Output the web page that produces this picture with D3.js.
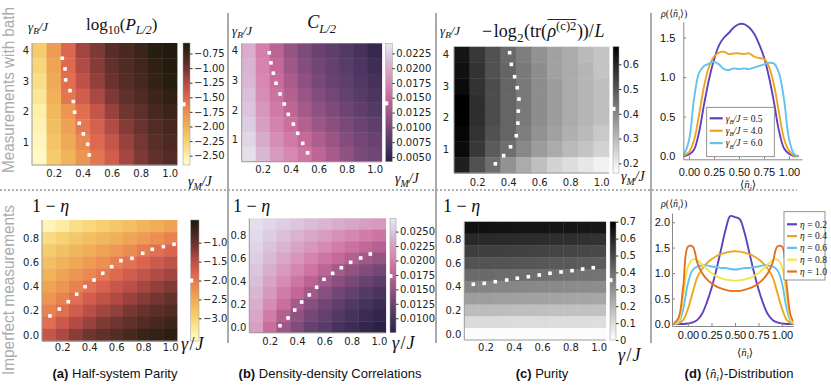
<!DOCTYPE html>
<html>
<head>
<meta charset="utf-8">
<script src="https://cdn.jsdelivr.net/npm/d3@7"></script>
<style>
  body { margin: 0; background: #fff; }
  svg { display: block; }
  text { white-space: pre; }
</style>
</head>
<body>
<svg id="chart" width="831" height="388"></svg>
<script>
// ---- data ----
let gammaCols = [0.1, 0.2, 0.3, 0.4, 0.5, 0.6, 0.7, 0.8, 0.9, 1.0];
let gammaBRows = [4.0, 3.5, 3.0, 2.5, 2.0, 1.5, 1.0, 0.5];
let etaRows = [0.9, 0.8, 0.7, 0.6, 0.5, 0.4, 0.3, 0.2, 0.1, 0.0];

let parityBath = [
  [-2.2, -1.85, -1.5, -1.18, -1.05, -0.9, -0.82, -0.74, -0.63, -0.58],
  [-2.28, -1.9, -1.52, -1.25, -1.08, -0.94, -0.85, -0.77, -0.67, -0.6],
  [-2.35, -1.95, -1.55, -1.32, -1.13, -0.98, -0.88, -0.8, -0.7, -0.63],
  [-2.42, -2.0, -1.6, -1.42, -1.22, -1.05, -0.93, -0.85, -0.75, -0.68],
  [-2.5, -2.05, -1.8, -1.55, -1.35, -1.15, -1.0, -0.92, -0.8, -0.74],
  [-2.55, -2.1, -1.88, -1.62, -1.45, -1.25, -1.08, -0.97, -0.86, -0.79],
  [-2.58, -2.15, -1.95, -1.72, -1.52, -1.35, -1.15, -1.02, -0.9, -0.83],
  [-2.62, -2.2, -2.02, -1.8, -1.6, -1.42, -1.2, -1.05, -0.93, -0.86]
];
let corrBath = [
  [0.0203, 0.0168, 0.0142, 0.0118, 0.0103, 0.009, 0.0082, 0.0074, 0.0065, 0.0052],
  [0.0207, 0.0172, 0.0147, 0.0124, 0.0108, 0.0095, 0.0086, 0.0078, 0.0069, 0.0058],
  [0.021, 0.0176, 0.0152, 0.013, 0.0113, 0.01, 0.009, 0.0082, 0.0073, 0.0063],
  [0.0214, 0.018, 0.0158, 0.0137, 0.012, 0.0106, 0.0096, 0.0087, 0.0078, 0.0069],
  [0.0218, 0.0186, 0.0164, 0.0145, 0.0128, 0.0114, 0.0103, 0.0093, 0.0084, 0.0075],
  [0.0223, 0.0192, 0.0171, 0.0154, 0.0137, 0.0123, 0.0111, 0.0101, 0.0091, 0.0082],
  [0.0229, 0.0201, 0.018, 0.0164, 0.0148, 0.0134, 0.0121, 0.0108, 0.0097, 0.0089],
  [0.0235, 0.021, 0.019, 0.0175, 0.016, 0.0145, 0.013, 0.0115, 0.0102, 0.0095]
];
let purityBath = [
  [0.63, 0.56, 0.51, 0.46, 0.42, 0.38, 0.35, 0.33, 0.30, 0.28],
  [0.64, 0.57, 0.51, 0.47, 0.43, 0.39, 0.35, 0.33, 0.31, 0.28],
  [0.65, 0.57, 0.52, 0.47, 0.43, 0.39, 0.36, 0.33, 0.31, 0.29],
  [0.67, 0.58, 0.52, 0.47, 0.43, 0.39, 0.36, 0.33, 0.31, 0.29],
  [0.67, 0.58, 0.52, 0.47, 0.43, 0.39, 0.36, 0.33, 0.31, 0.29],
  [0.66, 0.57, 0.51, 0.47, 0.42, 0.38, 0.35, 0.32, 0.30, 0.27],
  [0.65, 0.56, 0.49, 0.45, 0.40, 0.36, 0.33, 0.30, 0.28, 0.25],
  [0.61, 0.51, 0.45, 0.38, 0.33, 0.29, 0.25, 0.23, 0.21, 0.19]
];
let parityEta = [
  [-3.45, -3.3, -3.15, -3.05, -2.95, -2.85, -2.75, -2.65, -2.55, -2.45],
  [-3.1, -2.98, -2.86, -2.76, -2.66, -2.56, -2.46, -2.35, -2.22, -2.1],
  [-2.9, -2.78, -2.66, -2.55, -2.44, -2.32, -2.2, -2.05, -1.92, -1.8],
  [-2.75, -2.6, -2.48, -2.35, -2.22, -2.08, -1.95, -1.8, -1.68, -1.55],
  [-2.6, -2.45, -2.3, -2.15, -2.0, -1.85, -1.7, -1.58, -1.45, -1.35],
  [-2.45, -2.3, -2.1, -1.95, -1.78, -1.62, -1.5, -1.38, -1.25, -1.15],
  [-2.3, -2.1, -1.9, -1.7, -1.55, -1.42, -1.3, -1.18, -1.08, -0.98],
  [-2.1, -1.9, -1.7, -1.5, -1.35, -1.25, -1.1, -1.0, -0.9, -0.82],
  [-1.9, -1.65, -1.45, -1.3, -1.15, -1.05, -0.95, -0.85, -0.75, -0.68],
  [-1.6, -1.4, -1.2, -1.05, -0.95, -0.85, -0.75, -0.65, -0.58, -0.5]
];
let corrEta = [
  [0.0266, 0.026, 0.0255, 0.025, 0.0244, 0.0239, 0.0234, 0.0229, 0.0224, 0.022],
  [0.0262, 0.0254, 0.0246, 0.0238, 0.023, 0.0222, 0.0214, 0.0206, 0.0198, 0.019],
  [0.0258, 0.0248, 0.0238, 0.0228, 0.0218, 0.0208, 0.0198, 0.0188, 0.0178, 0.017],
  [0.0255, 0.0242, 0.023, 0.0217, 0.0204, 0.0192, 0.018, 0.0168, 0.0158, 0.015],
  [0.025, 0.0235, 0.022, 0.0205, 0.019, 0.0175, 0.016, 0.0148, 0.0138, 0.013],
  [0.0245, 0.0228, 0.021, 0.0192, 0.0174, 0.0158, 0.0144, 0.0132, 0.0122, 0.0114],
  [0.024, 0.022, 0.0198, 0.0178, 0.0158, 0.0142, 0.0128, 0.0118, 0.0108, 0.01],
  [0.0235, 0.021, 0.0185, 0.016, 0.0142, 0.0128, 0.0116, 0.0106, 0.0097, 0.009],
  [0.023, 0.0198, 0.0168, 0.0148, 0.013, 0.0118, 0.0106, 0.0097, 0.0088, 0.0082],
  [0.0225, 0.0185, 0.0155, 0.0138, 0.012, 0.011, 0.0098, 0.009, 0.0082, 0.0076]
];
let purityEta = [
  [0.655, 0.653, 0.65, 0.648, 0.647, 0.644, 0.642, 0.641, 0.638, 0.636],
  [0.59, 0.588, 0.584, 0.582, 0.578, 0.576, 0.572, 0.57, 0.566, 0.563],
  [0.53, 0.528, 0.524, 0.521, 0.519, 0.515, 0.512, 0.51, 0.506, 0.503],
  [0.475, 0.472, 0.47, 0.466, 0.463, 0.461, 0.457, 0.455, 0.451, 0.448],
  [0.41, 0.408, 0.404, 0.401, 0.399, 0.395, 0.393, 0.389, 0.386, 0.384],
  [0.34, 0.338, 0.334, 0.332, 0.328, 0.325, 0.323, 0.319, 0.316, 0.314],
  [0.27, 0.268, 0.264, 0.262, 0.258, 0.256, 0.252, 0.25, 0.246, 0.244],
  [0.185, 0.183, 0.182, 0.179, 0.178, 0.175, 0.174, 0.171, 0.17, 0.167],
  [0.1, 0.1, 0.098, 0.097, 0.097, 0.095, 0.094, 0.093, 0.092, 0.091],
  [0.008, 0.008, 0.008, 0.008, 0.008, 0.008, 0.008, 0.008, 0.008, 0.008]
];

// critical lines (x, y)
let parityBathLine = [[0.259, 3.75], [0.278, 3.40], [0.282, 3.04], [0.312, 2.69], [0.335, 2.33], [0.344, 1.98], [0.376, 1.62], [0.404, 1.27], [0.434, 0.93], [0.445, 0.58]];
let corrBathLine = [[0.247, 3.93], [0.259, 3.59], [0.276, 3.24], [0.295, 2.90], [0.324, 2.54], [0.354, 2.20], [0.383, 1.85], [0.419, 1.52], [0.45, 1.21], [0.486, 0.87], [0.521, 0.55]];
let purityBathLine = [[0.409, 4.06], [0.42, 3.69], [0.441, 3.30], [0.458, 2.95], [0.469, 2.59], [0.465, 2.21], [0.462, 1.83], [0.452, 1.43], [0.415, 1.08], [0.37, 0.80], [0.317, 0.54]];
let parityEtaLine = [[0.109, 0.157], [0.178, 0.214], [0.245, 0.275], [0.307, 0.336], [0.369, 0.399], [0.435, 0.454], [0.50, 0.51], [0.566, 0.564], [0.635, 0.614], [0.717, 0.633], [0.796, 0.675], [0.867, 0.708], [0.949, 0.73], [1.028, 0.749]];
let corrEtaLine = [[0.275, 0.011], [0.334, 0.079], [0.383, 0.148], [0.434, 0.218], [0.49, 0.28], [0.544, 0.347], [0.598, 0.417], [0.661, 0.469], [0.725, 0.518], [0.793, 0.565], [0.867, 0.603], [0.937, 0.638]];
let purityEtaLine = [[0.114, 0.421], [0.191, 0.429], [0.269, 0.443], [0.35, 0.457], [0.425, 0.472], [0.503, 0.485], [0.58, 0.499], [0.656, 0.514], [0.734, 0.525], [0.812, 0.536], [0.887, 0.55], [0.962, 0.561]];

// colorbar critical markers
let criticalMarks = { parityBath: -1.62, corrBath: 0.01405, purityBath: 0.42, parityEta: -2.0, corrEta: 0.0173, purityEta: 0.354 };

// density distributions
let nGridTop = [-0.1, -0.05, 0, 0.05, 0.1, 0.15, 0.2, 0.25, 0.3, 0.35, 0.4, 0.45, 0.5, 0.55, 0.6, 0.65, 0.7, 0.75, 0.8, 0.85, 0.9, 0.95, 1.0, 1.05, 1.1];
let rhoGB05 = [0, 0, 0.02, 0.08, 0.3, 0.65, 0.97, 1.22, 1.4, 1.5, 1.56, 1.63, 1.67, 1.67, 1.63, 1.55, 1.42, 1.25, 1.0, 0.68, 0.32, 0.1, 0.03, 0, 0];
let rhoGB40 = [0, 0.01, 0.05, 0.2, 0.52, 0.88, 1.13, 1.26, 1.31, 1.32, 1.29, 1.3, 1.3, 1.29, 1.3, 1.26, 1.24, 1.23, 1.13, 0.9, 0.55, 0.22, 0.07, 0.01, 0];
let rhoGB60 = [0, 0.03, 0.2, 0.72, 1.05, 1.14, 1.17, 1.19, 1.16, 1.1, 1.09, 1.11, 1.1, 1.11, 1.1, 1.12, 1.14, 1.16, 1.18, 1.17, 1.05, 0.72, 0.22, 0.03, 0];
let gammaBLabels = ["0.5", "4.0", "6.0"];

let nGridBot = [-0.15, -0.1, -0.05, 0, 0.05, 0.1, 0.15, 0.2, 0.25, 0.3, 0.35, 0.4, 0.45, 0.5, 0.55, 0.6, 0.65, 0.7, 0.75, 0.8, 0.85, 0.9, 0.95, 1.0, 1.05, 1.1, 1.15];
let rhoEta02 = [0, 0, 0, 0.01, 0.03, 0.08, 0.2, 0.42, 0.7, 1.05, 1.45, 1.85, 2.12, 2.1, 2.06, 1.8, 1.42, 1.03, 0.68, 0.4, 0.19, 0.08, 0.03, 0.01, 0, 0, 0];
let rhoEta04 = [0, 0.01, 0.08, 0.3, 0.62, 0.92, 1.08, 1.19, 1.27, 1.33, 1.37, 1.4, 1.42, 1.43, 1.42, 1.4, 1.37, 1.33, 1.27, 1.19, 1.08, 0.92, 0.62, 0.3, 0.08, 0.01, 0];
let rhoEta06 = [0, 0.03, 0.3, 0.8, 1.06, 1.13, 1.15, 1.15, 1.13, 1.12, 1.1, 1.1, 1.08, 1.07, 1.08, 1.1, 1.1, 1.12, 1.13, 1.15, 1.15, 1.13, 1.06, 0.8, 0.3, 0.03, 0];
let rhoEta08 = [0, 0.06, 0.55, 1.12, 1.27, 1.25, 1.17, 1.08, 1.0, 0.94, 0.9, 0.87, 0.86, 0.85, 0.86, 0.87, 0.9, 0.94, 1.0, 1.08, 1.17, 1.25, 1.27, 1.12, 0.55, 0.06, 0];
let rhoEta10 = [0.01, 0.12, 0.75, 1.52, 1.52, 1.2, 1.0, 0.88, 0.8, 0.74, 0.7, 0.67, 0.65, 0.65, 0.65, 0.67, 0.7, 0.74, 0.8, 0.88, 1.0, 1.2, 1.52, 1.52, 0.75, 0.12, 0.01];
let etaLabels = ["0.2", "0.4", "0.6", "0.8", "1.0"];

// ---- styles ----
const SANS = "'DejaVu Sans', sans-serif";
const SERIF = "'Liberation Serif', 'DejaVu Serif', serif";
const HELV = "'Liberation Sans', Arial, sans-serif";

let svg = d3.select("#chart");

let makeCmap = (stops, colors) => d3.scaleLinear().domain(stops).range(colors).interpolate(d3.interpolateRgb).clamp(true);
let parityCmap = makeCmap([0, 0.08, 0.2, 0.32, 0.44, 0.56, 0.68, 0.8, 0.92, 1],
  ["#fffcd0", "#fdefa6", "#f6d070", "#f0b058", "#ec8c50", "#dc6450", "#b04a44", "#6c3430", "#3a2418", "#1e1a0c"]);
let corrCmap = makeCmap([0, 0.165, 0.29, 0.415, 0.54, 0.665, 0.79, 0.915, 1],
  ["#2a2046", "#543a66", "#784878", "#a05888", "#c86a9a", "#d688b0", "#d8a8c8", "#ddd0e4", "#ebe9f2"]);
let grayCmap = makeCmap([0, 1], ["#ffffff", "#000000"]);

// rich math text: pieces laid out one after another
let mathText = (g, x, y, pieces, size, anchor) => {
  let grp = g.append("g");
  let cx = 0;
  let boxes = [];
  pieces.forEach(p => {
    let fs = (p.sub || p.sup) ? size * 0.7 : size;
    let dy = p.sub ? size * 0.25 : p.sup ? -size * 0.4 : 0;
    let t = grp.append("text").attr("x", cx).attr("y", dy)
      .attr("font-family", p.fam || SERIF).attr("font-size", fs)
      .attr("font-style", p.it ? "italic" : "normal").attr("fill", "#111").text(p.t);
    let w = t.node().getComputedTextLength();
    boxes.push([cx, cx + w]);
    cx += w + (p.sp || 0);
  });
  let dx = anchor === "middle" ? -cx / 2 : anchor === "end" ? -cx : 0;
  grp.attr("transform", "translate(" + (x + dx) + "," + y + ")");
  return { grp, boxes };
};

let gradId = 0;
let drawHeatmap = (p) => {
  let xScale = d3.scaleLinear().domain([0.05, 1.05]).range([p.x0, p.x1]);
  let yScale = d3.scaleLinear().domain(p.yDom).range([p.y1, p.y0]);
  let cScale = d3.scaleLinear().domain(p.cDom).range([0, 1]);
  let cells = [];
  p.rows.forEach((r, i) => gammaCols.forEach((c, j) => cells.push({ c, r, v: p.values[i][j] })));

  svg.append("g").selectAll("rect").data(cells).join("rect")
    .attr("x", d => xScale(d.c - 0.05))
    .attr("width", d => xScale(d.c + 0.05) - xScale(d.c - 0.05) + 0.4)
    .attr("y", d => yScale(d.r + p.dy / 2))
    .attr("height", d => yScale(d.r - p.dy / 2) - yScale(d.r + p.dy / 2) + 0.4)
    .attr("fill", d => p.cmap(cScale(d.v)));

  // spines
  svg.append("line").attr("x1", p.x0).attr("x2", p.x0).attr("y1", p.y0).attr("y2", p.y1).attr("stroke", "#999").attr("stroke-width", 1);
  svg.append("line").attr("x1", p.x0).attr("x2", p.x1).attr("y1", p.y1).attr("y2", p.y1).attr("stroke", "#999").attr("stroke-width", 1);

  // critical line dots
  svg.append("g").selectAll("rect").data(p.line).join("rect")
    .attr("x", d => xScale(d[0]) - 1.8).attr("y", d => yScale(d[1]) - 1.8)
    .attr("width", 3.6).attr("height", 3.6).attr("fill", "#fff");

  let xAxis = d3.axisBottom(xScale).tickValues([0.2, 0.4, 0.6, 0.8, 1.0]).tickFormat(d3.format(".1f")).tickSize(0).tickPadding(p.xPad);
  let gx = svg.append("g").attr("transform", "translate(0," + p.y1 + ")").call(xAxis);
  let yAxis = d3.axisLeft(yScale).tickValues(p.yTicks).tickFormat(d3.format(p.yFmt)).tickSize(0).tickPadding(p.yPad);
  let gy = svg.append("g").attr("transform", "translate(" + p.x0 + ",0)").call(yAxis);
  [gx, gy].forEach(g => {
    g.select(".domain").remove();
    g.selectAll("text").attr("font-family", SANS).attr("font-size", 10).attr("fill", "#222");
  });

  // colorbar
  let cb = d3.scaleLinear().domain(p.cDom).range([p.y1, p.y0]);
  let id = "grad" + (gradId++);
  let grad = svg.append("defs").append("linearGradient").attr("id", id)
    .attr("x1", 0).attr("x2", 0).attr("y1", 1).attr("y2", 0);
  d3.range(0, 1.0001, 0.05).forEach(t => grad.append("stop").attr("offset", t).attr("stop-color", p.cmap(t)));
  svg.append("rect").attr("x", p.cbX).attr("y", p.y0).attr("width", p.cbW).attr("height", p.y1 - p.y0)
    .attr("fill", "url(#" + id + ")").attr("stroke", "#999").attr("stroke-width", 0.5);
  let cAxis = d3.axisRight(cb).tickValues(p.cTicks).tickFormat(p.cFmt).tickSize(2.5).tickPadding(1.5).tickSizeOuter(0);
  let gc = svg.append("g").attr("transform", "translate(" + (p.cbX + p.cbW) + ",0)").call(cAxis);
  gc.select(".domain").remove();
  gc.selectAll("line").attr("stroke", "#333");
  gc.selectAll("text").attr("font-family", SANS).attr("font-size", 10).attr("fill", "#222");
  svg.append("rect").attr("x", p.cbX - 1.5).attr("y", cb(p.mark) - 2).attr("width", 4).attr("height", 4).attr("fill", "#fff");
};

let f4 = d3.format(".4f");
let heatPanels = [
  { x0: 32, x1: 177, y0: 43, y1: 165, rows: gammaBRows, dy: 0.5, yDom: [0.25, 4.25], yTicks: [1, 2, 3, 4], yFmt: "d",
    values: parityBath, cmap: parityCmap, cDom: [-2.66, -0.57], cbX: 183, cbW: 7,
    cTicks: [-2.5, -2.25, -2, -1.75, -1.5, -1.25, -1, -0.75], cFmt: d3.format(".2f"), mark: criticalMarks.parityBath,
    line: parityBathLine, xPad: 5, yPad: 3 },
  { x0: 241.7, x1: 381.7, y0: 43.3, y1: 161.7, rows: gammaBRows, dy: 0.5, yDom: [0.25, 4.25], yTicks: [1, 2, 3, 4], yFmt: "d",
    values: corrBath, cmap: corrCmap, cDom: [0.0042, 0.0242], cbX: 385.7, cbW: 6.6,
    cTicks: [0.005, 0.0075, 0.01, 0.0125, 0.015, 0.0175, 0.02, 0.0225], cFmt: f4, mark: criticalMarks.corrBath,
    line: corrBathLine, xPad: 4.5, yPad: 3.5 },
  { x0: 454, x1: 609, y0: 46.7, y1: 173, rows: gammaBRows, dy: 0.5, yDom: [0.25, 4.25], yTicks: [1, 2, 3, 4], yFmt: "d",
    values: purityBath, cmap: grayCmap, cDom: [0.161, 0.671], cbX: 613, cbW: 6,
    cTicks: [0.2, 0.3, 0.4, 0.5, 0.6], cFmt: d3.format(".1f"), mark: criticalMarks.purityBath,
    line: purityBathLine, xPad: 6, yPad: 5 },
  { x0: 42, x1: 177, y0: 220, y1: 341, rows: etaRows, dy: 0.1, yDom: [-0.05, 0.95], yTicks: [0, 0.2, 0.4, 0.6, 0.8], yFmt: ".1f",
    values: parityEta, cmap: parityCmap, cDom: [-3.6, -0.4], cbX: 190.7, cbW: 8.3,
    cTicks: [-3, -2.5, -2, -1.5, -1], cFmt: d3.format(".1f"), mark: criticalMarks.parityEta,
    line: parityEtaLine, xPad: 2.5, yPad: 3 },
  { x0: 249.3, x1: 385.7, y0: 218.3, y1: 332.7, rows: etaRows, dy: 0.1, yDom: [-0.05, 0.95], yTicks: [0, 0.2, 0.4, 0.6, 0.8], yFmt: ".1f",
    values: corrEta, cmap: corrCmap, cDom: [0.0075, 0.0273], cbX: 390, cbW: 6,
    cTicks: [0.01, 0.0125, 0.015, 0.0175, 0.02, 0.0225, 0.025], cFmt: f4, mark: criticalMarks.corrEta,
    line: corrEtaLine, xPad: 5.5, yPad: 3 },
  { x0: 464.3, x1: 605.7, y0: 221.7, y1: 340, rows: etaRows, dy: 0.1, yDom: [-0.05, 0.95], yTicks: [0, 0.2, 0.4, 0.6, 0.8], yFmt: ".1f",
    values: purityEta, cmap: grayCmap, cDom: [0, 0.7], cbX: 610, cbW: 6,
    cTicks: [0, 0.1, 0.2, 0.3, 0.4, 0.5, 0.6, 0.7], cFmt: d => d === 0 ? "0" : d3.format(".1f")(d), mark: criticalMarks.purityEta,
    line: purityEtaLine, xPad: 3.5, yPad: 3 }
];
heatPanels.forEach(drawHeatmap);

// ---- line panels ----
let drawLines = (p) => {
  let xScale = d3.scaleLinear().domain(p.xDom).range([p.x0, p.x1]);
  let yScale = d3.scaleLinear().domain(p.yDom).range([p.y1, p.y0]);
  let clipId = "clip" + (gradId++);
  svg.append("defs").append("clipPath").attr("id", clipId).append("rect")
    .attr("x", p.x0).attr("y", p.y0 - 2).attr("width", p.x1 - p.x0).attr("height", p.y1 - p.y0 + 2);
  let line = d3.line().x((d, i) => xScale(p.grid[i])).y(d => yScale(d)).curve(d3.curveCatmullRom.alpha(0.5));
  let g = svg.append("g").attr("clip-path", "url(#" + clipId + ")");
  p.series.forEach((s, k) => {
    g.append("path").datum(s).attr("d", line).attr("fill", "none")
      .attr("stroke", p.colors[k]).attr("stroke-width", 1.9).attr("stroke-linejoin", "round");
  });
  let xAxis = d3.axisBottom(xScale).tickValues([0, 0.25, 0.5, 0.75, 1]).tickFormat(d3.format(".2f")).tickSizeInner(-3).tickSizeOuter(0).tickPadding(p.xPad);
  let yAxis = d3.axisLeft(yScale).tickValues(p.yTicks).tickFormat(d3.format(".1f")).tickSizeInner(-3).tickSizeOuter(0).tickPadding(p.yPad);
  let gx = svg.append("g").attr("transform", "translate(0," + p.y1 + ")").call(xAxis);
  let gy = svg.append("g").attr("transform", "translate(" + p.x0 + ",0)").call(yAxis);
  [gx, gy].forEach(a => {
    a.select(".domain").attr("stroke", "#888");
    a.selectAll("line").attr("stroke", "#888");
    a.selectAll("text").attr("font-family", HELV).attr("font-size", 11).attr("fill", "#111");
  });

  // legend
  let lg = svg.append("g");
  lg.append("rect").attr("x", p.leg.x).attr("y", p.leg.y).attr("width", p.leg.w).attr("height", p.leg.h)
    .attr("fill", "#fff").attr("stroke", "#777").attr("stroke-width", 0.8);
  p.labels.forEach((lab, k) => {
    let yy = p.leg.y + p.leg.first + k * p.leg.step;
    lg.append("line").attr("x1", p.leg.x + 3).attr("x2", p.leg.x + 3 + p.leg.sw).attr("y1", yy).attr("y2", yy)
      .attr("stroke", p.colors[k]).attr("stroke-width", 2.2);
    mathText(lg, p.leg.x + 6 + p.leg.sw, yy + 3.3, p.labelPieces(lab), 9.5, "start");
  });
};

let curveColorsTop = ["#5e40c0", "#f0a41e", "#62c2f2"];
let curveColorsBot = ["#5e40c0", "#f0a41e", "#62c2f2", "#f2e548", "#e2701e"];

drawLines({
  x0: 683.3, x1: 802, y0: 21.7, y1: 159.3, xDom: [-0.057, 1.13], yDom: [-0.04, 1.70], yTicks: [0, 0.5, 1.0, 1.5],
  grid: nGridTop, series: [rhoGB05, rhoGB40, rhoGB60], colors: curveColorsTop, xPad: 9, yPad: 8,
  labels: gammaBLabels,
  labelPieces: lab => [{ t: "γ", it: 1 }, { t: "B", it: 1, sub: 1 }, { t: "/J", it: 1, sp: 2.5 }, { t: "=", sp: 2.5 }, { t: lab }],
  leg: { x: 706.7, y: 107.3, w: 67.6, h: 49.4, first: 11, step: 12.4, sw: 13 }
});
drawLines({
  x0: 672, x1: 793.3, y0: 213, y1: 326, xDom: [-0.17, 1.12], yDom: [-0.04, 2.18], yTicks: [0, 0.5, 1.0, 1.5, 2.0],
  grid: nGridBot, series: [rhoEta02, rhoEta04, rhoEta06, rhoEta08, rhoEta10], colors: curveColorsBot, xPad: 5.5, yPad: 2,
  labels: etaLabels,
  labelPieces: lab => [{ t: "η", it: 1, sp: 2.5 }, { t: "=", sp: 2.5 }, { t: lab }],
  leg: { x: 784, y: 211.7, w: 41, h: 68.3, first: 12.6, step: 11.8, sw: 10 }
});

// ---- labels ----
let gBJ = [{ t: "γ", it: 1 }, { t: "B", it: 1, sub: 1 }, { t: "/J", it: 1 }];
let gMJ = [{ t: "γ", it: 1 }, { t: "M", it: 1, sub: 1 }, { t: "/J", it: 1 }];
mathText(svg, 28, 31, gBJ, 13, "start");
mathText(svg, 232, 35, gBJ, 13, "start");
mathText(svg, 440, 35, gBJ, 13, "start");
mathText(svg, 188, 186, gMJ, 14, "start");
mathText(svg, 395, 183, gMJ, 14, "start");
mathText(svg, 621, 181, gMJ, 14, "start");

mathText(svg, 121.7, 30, [{ t: "log" }, { t: "10", sub: 1 }, { t: "(" }, { t: "P", it: 1 }, { t: "L/2", it: 1, sub: 1 }, { t: ")" }], 17, "middle");
mathText(svg, 321.7, 28, [{ t: "C", it: 1 }, { t: "L/2", it: 1, sub: 1 }], 18, "middle");
let purT = mathText(svg, 482, 37, [{ t: "−", sp: 1.5 }, { t: "log", sp: 0.5 }, { t: "2", sub: 1, sp: 0.5 }, { t: "(tr(", sp: 0.5 },
  { t: "ρ", it: 1 }, { t: "(c)2", sup: 1, sp: 0.5 }, { t: "))/", sp: 0.5 }, { t: "L", it: 1 }], 18, "start");
purT.grp.append("line").attr("x1", purT.boxes[4][0]).attr("x2", purT.boxes[5][1]).attr("y1", -17.5).attr("y2", -17.5)
  .attr("stroke", "#111").attr("stroke-width", 0.9);

[32, 233, 443].forEach(x => mathText(svg, x, 212, [{ t: "1 − " }, { t: "η", it: 1 }], 18, "start"));
[[181, 350], [392, 349], [618, 361]].forEach(([x, y]) =>
  mathText(svg, x, y, [{ t: "γ", it: 1, sp: 1.5 }, { t: "/", sp: 1 }, { t: "J", it: 1 }], 18, "start"));

let rhoLab = [{ t: "ρ", it: 1 }, { t: "(⟨" }, { t: "n̂", it: 1 }, { t: "i", it: 1, sub: 1 }, { t: "⟩)" }];
mathText(svg, 661, 17, rhoLab, 10, "start");
mathText(svg, 661, 207, rhoLab, 10, "start");
let nLab = [{ t: "⟨" }, { t: "n̂", it: 1 }, { t: "i", it: 1, sub: 1 }, { t: "⟩" }];
mathText(svg, 748, 188, nLab, 11, "middle");
mathText(svg, 745, 356, nLab, 11, "middle");

// side labels
svg.append("text").attr("transform", "translate(14,90) rotate(-90)").attr("text-anchor", "middle")
  .attr("font-family", HELV).attr("font-size", 16).attr("fill", "#aaa")
  .attr("textLength", 166).attr("lengthAdjust", "spacingAndGlyphs").text("Measurements with bath");
svg.append("text").attr("transform", "translate(14,290) rotate(-90)").attr("text-anchor", "middle")
  .attr("font-family", HELV).attr("font-size", 16).attr("fill", "#aaa")
  .attr("textLength", 170).attr("lengthAdjust", "spacingAndGlyphs").text("Imperfect measurements");

// captions
let caption = (x, tag, rest) => {
  let t = svg.append("text").attr("x", x).attr("y", 378).attr("text-anchor", "middle")
    .attr("font-family", HELV).attr("font-size", 13).attr("fill", "#111");
  t.append("tspan").attr("font-weight", "bold").text(tag);
  rest(t);
};
caption(115, "(a)", t => t.append("tspan").text(" Half-system Parity"));
caption(330, "(b)", t => t.append("tspan").text(" Density-density Correlations"));
caption(542, "(c)", t => t.append("tspan").text(" Purity"));
caption(739, "(d)", t => {
  t.append("tspan").text(" ");
  t.append("tspan").attr("font-family", SERIF).text("⟨");
  t.append("tspan").attr("font-family", SERIF).attr("font-style", "italic").text("n̂");
  t.append("tspan").attr("font-family", SERIF).attr("font-style", "italic").attr("font-size", 9).attr("dy", 3).text("i");
  t.append("tspan").attr("font-family", SERIF).attr("dy", -3).text("⟩");
  t.append("tspan").text("-Distribution");
});

// separators
[228, 436, 651].forEach(x => svg.append("line").attr("x1", x).attr("x2", x).attr("y1", 13).attr("y2", 343)
  .attr("stroke", "#aaa").attr("stroke-width", 2));
svg.append("line").attr("x1", 0).attr("x2", 797).attr("y1", 190).attr("y2", 190)
  .attr("stroke", "#999").attr("stroke-width", 1.5).attr("stroke-dasharray", "2,2");
</script>
</body>
</html>
